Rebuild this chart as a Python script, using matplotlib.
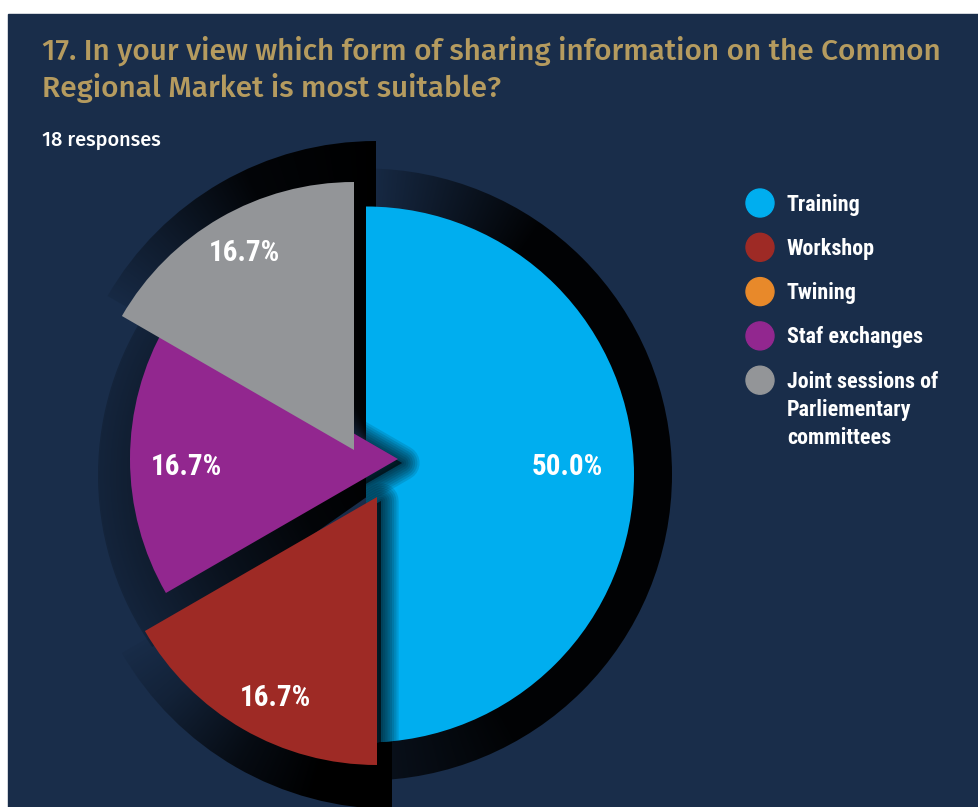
import numpy as np
import matplotlib
matplotlib.use('Agg')
import matplotlib.pyplot as plt
from matplotlib.patches import Wedge, Rectangle, Circle

# data (18 responses)
categories = ['Training', 'Workshop', 'Twining', 'Staf exchanges',
              'Joint sessions of\nParliementary\ncommittees']
responses = [9, 3, 0, 3, 3]
colors = ['#00aeef', '#9e2a25', '#e8892a', '#92278f', '#939598']
title = ('17. In your view which form of sharing information on the Common\n'
         'Regional Market is most suitable?')
subtitle = f'{sum(responses)} responses'

W, H = 979, 807
NAVY = '#192d4a'
GOLD = '#b59b5f'
NARROW = ['Roboto Condensed', 'DejaVu Sans']
SANS = ['Fira Sans', 'DejaVu Sans']
R = 268

# layout: every slice is pulled to its own spot (image pixel coords)
slice_centers = [(366, 474.5), (377, 497), (366, 474.5), (398, 459), (354, 450)]
label_dist = [0.75, 0.84, 0.0, 0.79, 0.84]
label_turn = [2.1, 3.2, 0.0, 2.2, -0.8]   # small nudge of label angle, degrees


def Y(y):
    # image row -> data y
    return H - y


fig = plt.figure(figsize=(W / 100, H / 100), dpi=100, facecolor='white')
ax = fig.add_axes([0, 0, 1, 1])
ax.axis('off')
ax.add_patch(Rectangle((8, 0), W - 8, H - 14, color=NAVY, zorder=0))


def add_shadow(c, r, t1, t2, alpha_fn, z):
    cx, cy = c[0], Y(c[1])
    clip = Wedge((cx, cy), r, t1, t2, transform=ax.transData)
    xs = np.arange(cx - r, cx + r + 1)
    ys = np.arange(cy - r, cy + r + 1)
    gx, gy = np.meshgrid(xs, ys)
    dx, dy = gx - cx, gy - cy
    ang = np.degrees(np.arctan2(dy, dx)) % 360
    dist = np.hypot(dx, dy)
    img = np.zeros(gx.shape + (4,))
    img[..., 3] = np.clip(alpha_fn(ang, dist), 0, 1)
    im = ax.imshow(img, extent=(xs[0], xs[-1], ys[0], ys[-1]), origin='lower',
                   zorder=z, interpolation='bilinear')
    im.set_clip_path(clip)


# soft black shadows behind the slices
add_shadow((366, 474.5), 306, -90, 90,
           lambda a, d: np.interp(np.where(a > 180, a - 360, a),
                                  [-90, -60, 55, 90], [0.6, 0.95, 0.95, 0.05]), 1.0)
add_shadow((398, 475), 300, 148, 215,
           lambda a, d: np.interp(d, [0, 100, 200, 300], [1, 0.9, 0.6, 0.2]), 1.1)
add_shadow((376, 451), 310, 90, 150,
           lambda a, d: np.interp(a, [90, 115, 135, 150], [1, 0.9, 0.4, 0.08]), 1.2)
add_shadow((392, 497), 312, 210, 270,
           lambda a, d: np.interp(a, [210, 222, 240, 255, 270], [0.03, 0.25, 0.75, 1, 1]), 1.3)

wedges, _ = ax.pie(responses, colors=colors, startangle=90, counterclock=False,
                   radius=R, center=(0, 0), wedgeprops=dict(linewidth=0))

total = sum(responses)
for i, w in enumerate(wedges):
    cx, cy = slice_centers[i]
    w.set_center((cx, Y(cy)))
    w.set_zorder(2 if i == 0 else 3)
    if responses[i] == 0:
        continue
    mid = np.radians((w.theta1 + w.theta2) / 2 + label_turn[i])
    d = label_dist[i] * R
    ax.text(cx + d * np.cos(mid), Y(cy) + d * np.sin(mid),
            f'{100 * responses[i] / total:.1f}%', color='white', fontsize=21,
            fontweight='bold', family=NARROW, ha='center', va='center', zorder=6)

# drop shadow of the workshop / staf slices falling on the training slice
for i in (1, 3):
    w = wedges[i]
    for k in range(8):
        s = Wedge((w.center[0] + 4, w.center[1] - 4), w.r, w.theta1, w.theta2,
                  facecolor=(0, 0, 0, 0.11), edgecolor=(0, 0, 0, 0.11),
                  linewidth=3 + 3.2 * k, joinstyle='round', zorder=2.5)
        ax.add_patch(s)
        s.set_clip_path(wedges[0])

# legend
for i, (lab, col) in enumerate(zip(categories, colors)):
    y = Y(203 + i * 44.3)
    ax.add_patch(Circle((760, y), 14, color=col, zorder=5))
    for j, line in enumerate(lab.split('\n')):
        ax.text(787, y - 7.5 - 28 * j, line, color='white', fontsize=15.8,
                fontweight='bold', family=NARROW, ha='left', va='baseline', zorder=6)

for j, line in enumerate(title.split('\n')):
    ax.text(42, Y(60 + 36.7 * j), line, color=GOLD, fontsize=21.5, fontweight=500,
            family=SANS, ha='left', va='baseline', zorder=6)
ax.text(42, Y(146), subtitle, color='white', fontsize=14.4, fontweight=500, family=SANS,
        ha='left', va='baseline', zorder=6)

ax.set_xlim(0, W)
ax.set_ylim(0, H)
ax.set_aspect('auto')
fig.savefig('out.png', dpi=100, facecolor='white')
